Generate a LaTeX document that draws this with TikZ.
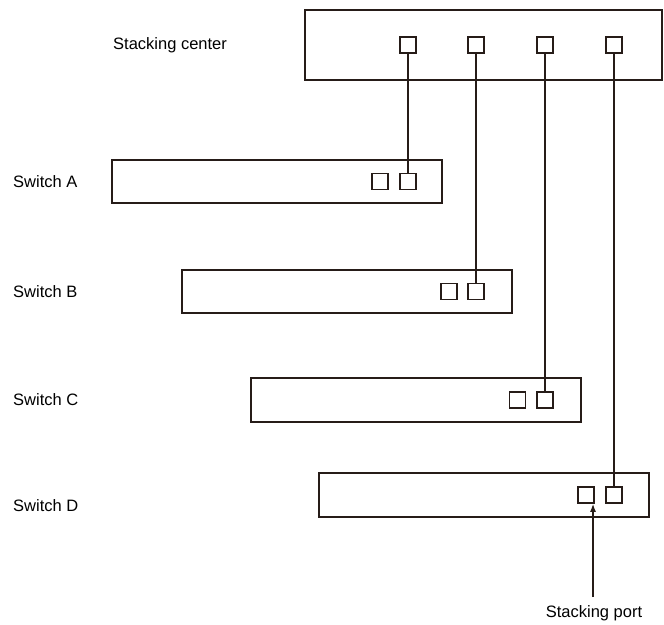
\documentclass[tikz,border=0pt]{standalone}
\usepackage{fontspec}
\setmainfont{Liberation Sans}
\usepackage{tikz}
\usetikzlibrary{positioning,arrows.meta}
\definecolor{ink}{RGB}{38,28,24}

\begin{document}
\begin{tikzpicture}[
    x=1pt, y=-1pt,
    every node/.style={font=\fontsize{16.5}{20}\selectfont},
    box/.style={draw=ink, line width=1.9pt, minimum width=330pt, minimum height=43pt, inner sep=0pt},
    port/.style={draw=ink, line width=1.6pt, minimum size=16pt, inner sep=0pt},
    lbl/.style={anchor=west, inner sep=0pt},
    link/.style={draw=ink, line width=1.4pt},
    arrow/.style={-{Latex[length=8pt,width=6pt]}, ink, line width=1.4pt}
]
\useasboundingbox (0,0) rectangle (664,624);

% stacking center
\node[box, minimum width=357pt, minimum height=70pt] (center) at (483.5,45) {};
\node[lbl] (centerlbl) at (113,45) {Stacking center};
\node[port] (c1) at (408,45) {};
\node[port] (c2) at (476,45) {};
\node[port] (c3) at (545,45) {};
\node[port] (c4) at (614,45) {};

% member switches
\node[box] (swA) at (277,181.5) {};
\node[lbl] (lblA) at (13,181.5) {Switch A};
\node[port] (a1) at (380,181.5) {};
\node[port] (a2) at (408,181.5) {};

\node[box] (swB) at (347,291.5) {};
\node[lbl] (lblB) at (13,291.5) {Switch B};
\node[port] (b1) at (449,291.5) {};
\node[port] (b2) at (476,291.5) {};

\node[box, minimum height=44pt] (swC) at (416,400) {};
\node[lbl] (lblC) at (13,400) {Switch C};
\node[port] (cc1) at (517.5,400) {};
\node[port] (cc2) at (545,400) {};

\node[box, minimum height=44pt] (swD) at (484,495) {};
\node[lbl] (lblD) at (13,506) {Switch D};
\node[port] (d1) at (586,495) {};
\node[port] (d2) at (614,495) {};

\draw[link] (c1) -- (a2);
\draw[link] (c2) -- (b2);
\draw[link] (c3) -- (cc2);
\draw[link] (c4) -- (d2);

% stacking port callout
\coordinate (tail) at (593,597);
\draw[arrow] (tail) -- (tail |- d1.south);
\node (portlbl) at (594,613) {Stacking port};
\end{tikzpicture}
\end{document}
